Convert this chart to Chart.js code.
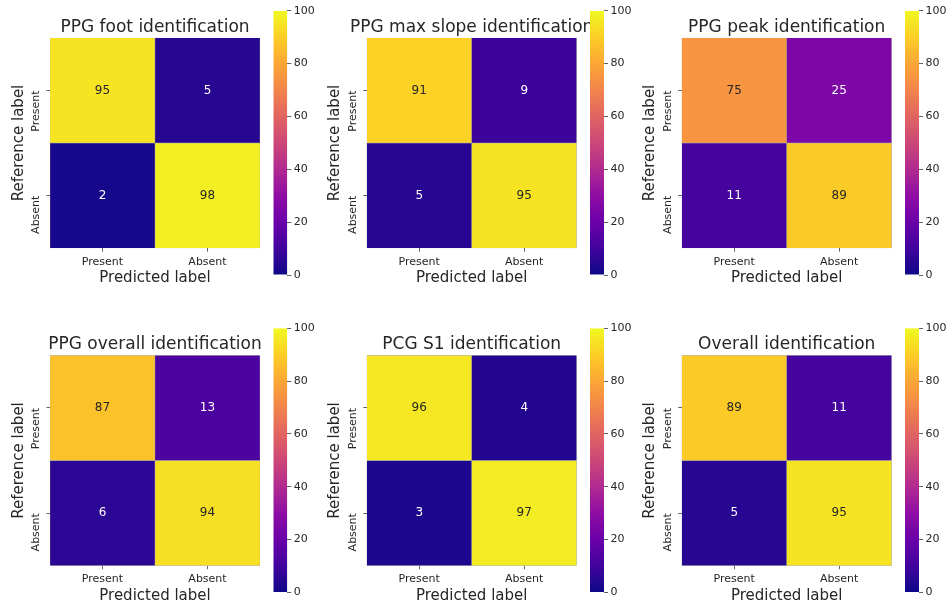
<!DOCTYPE html>
<html>
<head>
<meta charset="utf-8">
<script src="https://cdn.jsdelivr.net/npm/chart.js@4.4.1/dist/chart.umd.min.js"></script>
<style>
  html, body { margin: 0; background: #fff; }
  #fig { position: relative; width: 946px; height: 606px; overflow: hidden; }
  #fig canvas { position: absolute; }
</style>
</head>
<body>
<div id="fig"></div>
<script>
; (function () {
    'use strict'

    // ── Data ───────────────────────────────────────────────────────────────────
    const predictedLabels = ['Present', 'Absent']   // columns
    const referenceLabels = ['Present', 'Absent']   // rows, top to bottom
    const panelTitles = [
        'PPG foot identification', 'PPG max slope identification', 'PPG peak identification',
        'PPG overall identification', 'PCG S1 identification', 'Overall identification'
    ]
    const ppgFoot = [[95, 5], [2, 98]]
    const ppgMaxSlope = [[91, 9], [5, 95]]
    const ppgPeak = [[75, 25], [11, 89]]
    const ppgOverall = [[87, 13], [6, 94]]
    const pcgS1 = [[96, 4], [3, 97]]
    const overall = [[89, 11], [5, 95]]
    const matrices = [ppgFoot, ppgMaxSlope, ppgPeak, ppgOverall, pcgS1, overall]
    const colorbarMin = 0
    const colorbarMax = 100
    const colorbarStep = 20

    // ── Layout (px) ────────────────────────────────────────────────────────────
    const HM_LEFT = [50, 366.7, 681.7]
    const CB_LEFT = [273.3, 590, 905]
    const ROW_TOP = [0, 317.5]
    const HM_TOP = 37.8, HM_BOTTOM = 248.2, HM_SIZE = 210
    const CB_TOP = 10.7, CB_BOTTOM = 275, CB_WIDTH = 14
    const Y_AXIS_W = 50, X_AXIS_H = 42, CB_AXIS_W = 30
    const CANVAS_H = 295

    const TEXT = '#262626'
    const TICK = '#3a3a3a'
    const CELL_EDGE = 'rgba(150,150,150,0.9)'

    Chart.defaults.font.family = '"DejaVu Sans", sans-serif'
    Chart.defaults.color = TEXT

    // ── Plasma colormap ────────────────────────────────────────────────────────
    const PLASMA = ['#0d0887', '#41049d', '#6a00a8', '#8f0da4', '#b12a90', '#cc4778',
        '#e16462', '#f2844b', '#fca636', '#fcce25', '#f0f921']
    const hexRgb = h => [1, 3, 5].map(i => parseInt(h.slice(i, i + 2), 16))

    function plasma(t) {
        t = Math.min(1, Math.max(0, t))
        const p = t * (PLASMA.length - 1)
        const i = Math.min(Math.floor(p), PLASMA.length - 2)
        const f = p - i
        const a = hexRgb(PLASMA[i]), b = hexRgb(PLASMA[i + 1])
        return a.map((v, k) => Math.round(v + (b[k] - v) * f))
    }
    const rgbStr = c => `rgb(${c[0]},${c[1]},${c[2]})`

    function luminance(c) {
        const l = c.map(v => {
            v /= 255
            return v <= 0.03928 ? v / 12.92 : Math.pow((v + 0.055) / 1.055, 2.4)
        })
        return 0.2126 * l[0] + 0.7152 * l[1] + 0.0722 * l[2]
    }

    // ── Cell annotations ───────────────────────────────────────────────────────
    const cellText = {
        id: 'cellText',
        afterDatasetsDraw(chart) {
            const { ctx } = chart
            ctx.save()
            ctx.font = '12px "DejaVu Sans"'
            ctx.textAlign = 'center'
            ctx.textBaseline = 'middle'
            chart.data.datasets.forEach((ds, di) => {
                chart.getDatasetMeta(di).data.forEach((bar, i) => {
                    const v = ds.values[i]
                    const { x, y, base } = bar.getProps(['x', 'y', 'base'], true)
                    ctx.fillStyle = luminance(plasma(v / colorbarMax)) > 0.408 ? TEXT : '#ffffff'
                    ctx.fillText(String(v), x, (y + base) / 2)
                })
            })
            ctx.restore()
        }
    }

    // ── Helpers ────────────────────────────────────────────────────────────────
    const fig = document.getElementById('fig')

    function addCanvas(left, top, w, h) {
        const c = document.createElement('canvas')
        c.width = w; c.height = h
        c.style.left = left + 'px'; c.style.top = top + 'px'
        c.style.width = w + 'px'; c.style.height = h + 'px'
        fig.appendChild(c)
        return c
    }

    function heatmap(col, row, title, values) {
        const top = Math.floor(ROW_TOP[row]), fy = ROW_TOP[row] - top
        const left = Math.floor(HM_LEFT[col]) - Y_AXIS_W
        const width = 2 * (Y_AXIS_W + HM_SIZE / 2) + 2
        const padLeft = HM_LEFT[col] - left - Y_AXIS_W
        // a blank right axis as wide as the left one keeps the title centred on the cells
        const padRight = width - (HM_LEFT[col] - left) - HM_SIZE - Y_AXIS_W
        const titleTop = 17 + fy
        const titleBottom = HM_TOP + fy - titleTop - 17 * 1.2

        new Chart(addCanvas(left, top, width, CANVAS_H), {
            type: 'bar',
            data: {
                labels: predictedLabels,
                datasets: referenceLabels.map((name, r) => ({
                    label: name,
                    values: values[r],
                    data: predictedLabels.map(() => [r, r + 1]),
                    backgroundColor: values[r].map(v => rgbStr(plasma(v / colorbarMax))),
                    borderColor: CELL_EDGE,
                    borderWidth: 0.5,
                    borderSkipped: false,
                    grouped: false,
                    barPercentage: 1,
                    categoryPercentage: 1
                }))
            },
            options: {
                responsive: false,
                animation: false,
                layout: { padding: { left: padLeft, right: padRight, top: 0, bottom: CANVAS_H - (HM_BOTTOM + fy) - X_AXIS_H } },
                plugins: {
                    legend: { display: false },
                    tooltip: { enabled: false },
                    title: {
                        display: true, text: title, color: TEXT,
                        font: { size: 17, weight: 'normal' },
                        padding: { top: titleTop, bottom: titleBottom }
                    }
                },
                scales: {
                    x: {
                        type: 'category',
                        offset: true,
                        grid: { drawOnChartArea: false, offset: false, tickLength: 3.5, tickWidth: 0.8, color: TICK },
                        border: { display: false },
                        ticks: { font: { size: 11 }, padding: 3.4, maxRotation: 0, color: TEXT },
                        title: { display: true, text: 'Predicted label', color: TEXT, font: { size: 15 }, padding: { top: 0, bottom: 2.6 } },
                        afterFit: s => { s.height = X_AXIS_H }
                    },
                    y: {
                        type: 'linear', min: 0, max: referenceLabels.length, reverse: true,
                        afterBuildTicks: s => { s.ticks = referenceLabels.map((_, i) => ({ value: i + 0.5 })) },
                        grid: { drawOnChartArea: false, tickLength: 3.5, tickWidth: 0.8, color: TICK },
                        border: { display: false },
                        ticks: {
                            font: { size: 11 }, padding: 10.3, color: TEXT,
                            minRotation: 90, maxRotation: 90,
                            callback: (v, i) => referenceLabels[i]
                        },
                        title: { display: true, text: 'Reference label', color: TEXT, font: { size: 15 }, padding: { top: 9.8, bottom: 0 } },
                        afterFit: s => { s.width = Y_AXIS_W }
                    },
                    spacer: {
                        type: 'linear', position: 'right',
                        grid: { display: false }, border: { display: false }, ticks: { display: false },
                        afterFit: s => { s.width = Y_AXIS_W }
                    }
                }
            },
            plugins: [cellText]
        })
    }

    function colorbar(col, row) {
        const top = Math.floor(ROW_TOP[row]), fy = ROW_TOP[row] - top
        const left = Math.floor(CB_LEFT[col])
        const padLeft = CB_LEFT[col] - left
        const width = 46
        const padRight = width - padLeft - CB_WIDTH - CB_AXIS_W

        new Chart(addCanvas(left, top, width, CANVAS_H), {
            type: 'bar',
            data: {
                labels: [''],
                datasets: [{
                    data: [[colorbarMin, colorbarMax]],
                    backgroundColor: c => {
                        const area = c.chart.chartArea
                        if (!area) return PLASMA[0]
                        const g = c.chart.ctx.createLinearGradient(0, area.bottom, 0, area.top)
                        PLASMA.forEach((h, i) => g.addColorStop(i / (PLASMA.length - 1), h))
                        return g
                    },
                    borderWidth: 0,
                    inflateAmount: 0,
                    barPercentage: 1,
                    categoryPercentage: 1
                }]
            },
            options: {
                responsive: false,
                animation: false,
                layout: { padding: { left: padLeft, right: padRight, top: CB_TOP + fy, bottom: CANVAS_H - (CB_BOTTOM + fy) } },
                plugins: { legend: { display: false }, tooltip: { enabled: false } },
                scales: {
                    x: { display: false },
                    y: {
                        position: 'right', min: colorbarMin, max: colorbarMax,
                        grid: { drawOnChartArea: false, tickLength: 4, tickWidth: 0.8, color: TICK },
                        border: { display: false },
                        ticks: { stepSize: colorbarStep, padding: 2.5, font: { size: 11 }, color: TEXT },
                        afterFit: s => { s.width = CB_AXIS_W }
                    }
                }
            }
        })
    }

    // ── Draw ───────────────────────────────────────────────────────────────────
    matrices.forEach((m, i) => heatmap(i % 3, Math.floor(i / 3), panelTitles[i], m))
    matrices.forEach((m, i) => colorbar(i % 3, Math.floor(i / 3)))

})()
</script>
</body>
</html>
